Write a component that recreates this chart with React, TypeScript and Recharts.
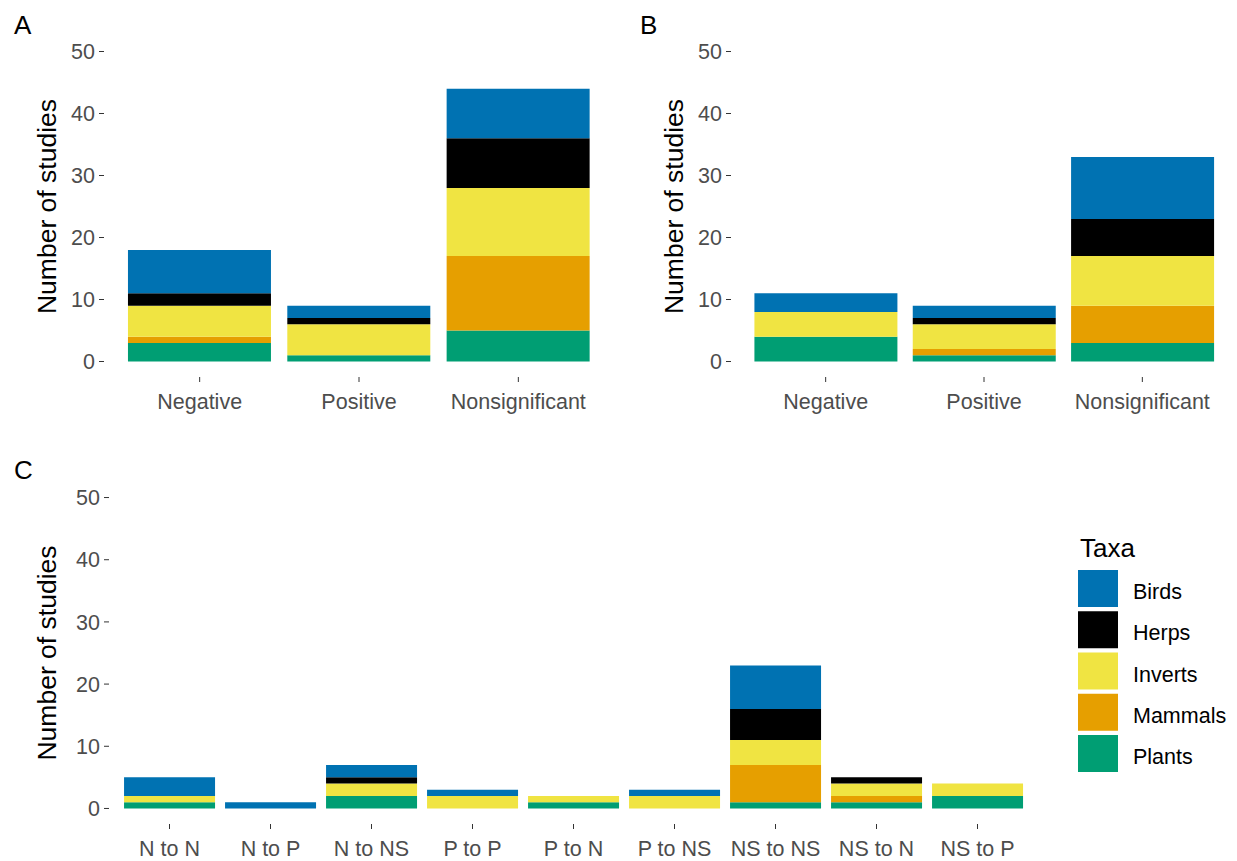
import { Bar, BarChart, Label, XAxis, YAxis } from "recharts";

const FONT = '"Liberation Sans", Arial, sans-serif';

const TAXA = ["Plants", "Mammals", "Inverts", "Herps", "Birds"];
const TAXA_KEYS = ["plants", "mammals", "inverts", "herps", "birds"];
const TAXA_COLORS = ["#009E73", "#E69F00", "#F0E442", "#000000", "#0072B2"];

const Y_TICKS = [0, 10, 20, 30, 40, 50];

// panel A / B
const effectCats = ["Negative", "Positive", "Nonsignificant"];

const aPlants = [3, 1, 5];
const aMammals = [1, 0, 12];
const aInverts = [5, 5, 11];
const aHerps = [2, 1, 8];
const aBirds = [7, 2, 8];

const bPlants = [4, 1, 3];
const bMammals = [0, 1, 6];
const bInverts = [4, 4, 8];
const bHerps = [0, 1, 6];
const bBirds = [3, 2, 10];

// panel C
const changeCats = ["N to N", "N to P", "N to NS", "P to P", "P to N", "P to NS", "NS to NS", "NS to N", "NS to P"];

const cPlants = [1, 0, 2, 0, 1, 0, 1, 1, 2];
const cMammals = [0, 0, 0, 0, 0, 0, 6, 1, 0];
const cInverts = [1, 0, 2, 2, 1, 2, 4, 2, 2];
const cHerps = [0, 0, 1, 0, 0, 0, 5, 1, 0];
const cBirds = [3, 1, 2, 1, 0, 1, 7, 0, 0];

const buildRows = (cats: string[], series: number[][]) =>
  cats.map((cat, i) => {
    const row: Record<string, any> = { cat };
    TAXA_KEYS.forEach((k, j) => {
      row[k] = series[j][i];
    });
    return row;
  });

const dataA = buildRows(effectCats, [aPlants, aMammals, aInverts, aHerps, aBirds]);
const dataB = buildRows(effectCats, [bPlants, bMammals, bInverts, bHerps, bBirds]);
const dataC = buildRows(changeCats, [cPlants, cMammals, cInverts, cHerps, cBirds]);

const YTitle = ({ viewBox }: any) => {
  const cx = viewBox.x + 56;
  const cy = viewBox.y + viewBox.height / 2;
  return (
    <text
      x={cx}
      y={cy}
      transform={`rotate(-90, ${cx}, ${cy})`}
      textAnchor="middle"
      fontSize={26.5}
      fontFamily={FONT}
      fill="#000000"
    >
      Number of studies
    </text>
  );
};

type PanelProps = {
  data: any[];
  left: number;
  top: number;
  width: number;
  height: number;
  yWidth: number;
  marginRight: number;
  xHeight: number;
  pad: number;
};

function Panel({ data, left, top, width, height, yWidth, marginRight, xHeight, pad }: PanelProps) {
  const tick = { fill: "#4D4D4D", fontSize: 21.5, fontFamily: FONT };
  return (
    <div style={{ position: "absolute", left, top }}>
      <BarChart
        width={width}
        height={height}
        data={data}
        margin={{ top: 36, right: marginRight, bottom: 0, left: 0 }}
        barCategoryGap="5%"
      >
        <XAxis
          dataKey="cat"
          interval={0}
          axisLine={false}
          tickLine={{ stroke: "#333333" }}
          tickSize={5}
          tickMargin={12}
          tick={tick}
          height={xHeight}
          padding={{ left: pad, right: pad }}
        />
        <YAxis
          type="number"
          domain={[-2.5, 52.5]}
          ticks={Y_TICKS}
          interval={0}
          axisLine={false}
          tickLine={{ stroke: "#333333" }}
          tickSize={5}
          tickMargin={4}
          tick={tick}
          width={yWidth}
        >
          <Label content={<YTitle />} />
        </YAxis>
        {TAXA_KEYS.map((k, i) => (
          <Bar key={k} dataKey={k} name={TAXA[i]} stackId="taxa" fill={TAXA_COLORS[i]} isAnimationActive={false} />
        ))}
      </BarChart>
    </div>
  );
}

export default function App() {
  const legendOrder = [4, 3, 2, 1, 0];
  return (
    <div
      style={{
        position: "absolute",
        left: 0,
        top: 0,
        width: 1237,
        height: 861,
        overflow: "hidden",
        background: "#ffffff",
        fontFamily: FONT,
      }}
    >
      <Panel data={dataA} left={0} top={0} width={620} height={430} yWidth={104} marginRight={6} xHeight={53} pad={16} />
      <Panel data={dataB} left={627} top={0} width={610} height={430} yWidth={104} marginRight={0} xHeight={53} pad={15.5} />
      <Panel data={dataC} left={0} top={446} width={1237} height={415} yWidth={109} marginRight={199} xHeight={37} pad={10} />

      <svg width={1237} height={861} style={{ position: "absolute", left: 0, top: 0, pointerEvents: "none" }}>
        <text x={14} y={34} fontSize={26} fontFamily={FONT} fill="#000">A</text>
        <text x={640} y={34} fontSize={26} fontFamily={FONT} fill="#000">B</text>
        <text x={14} y={479} fontSize={26} fontFamily={FONT} fill="#000">C</text>

        <text x={1080} y={557} fontSize={26} fontFamily={FONT} fill="#000">Taxa</text>
        {legendOrder.map((idx, i) => (
          <g key={TAXA[idx]}>
            <rect x={1078} y={570 + i * 41.25} width={40} height={37} fill={TAXA_COLORS[idx]} />
            <text x={1133} y={570 + i * 41.25 + 29} fontSize={21.5} fontFamily={FONT} fill="#000">
              {TAXA[idx]}
            </text>
          </g>
        ))}
      </svg>
    </div>
  );
}
